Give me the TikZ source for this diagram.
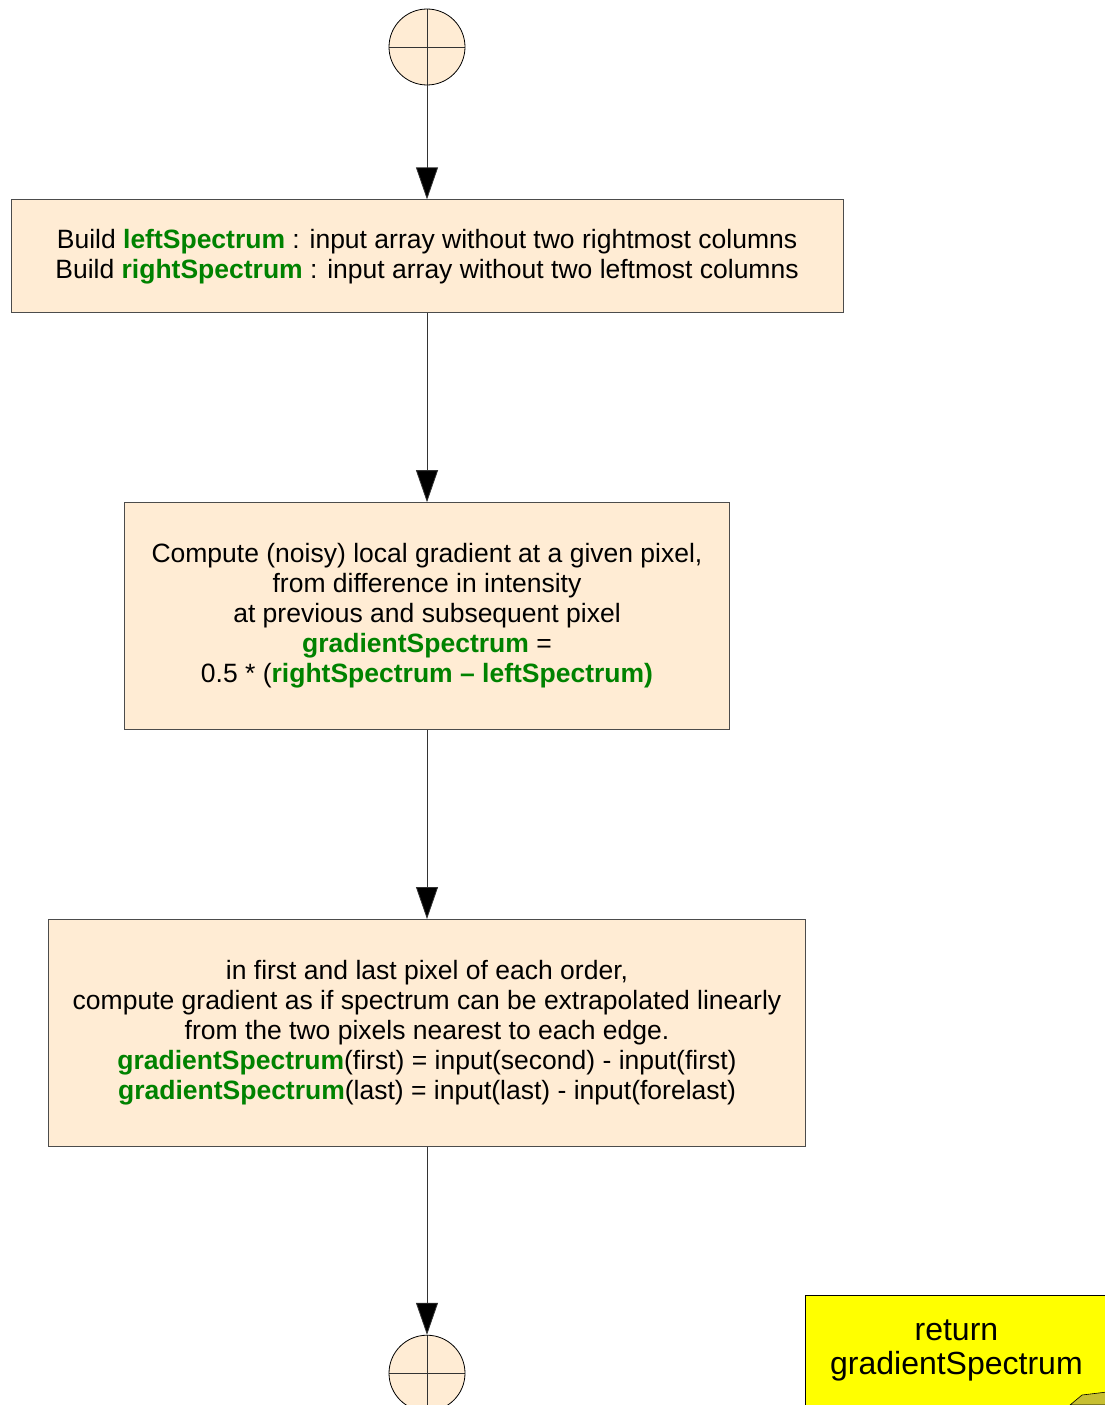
\documentclass[tikz,border=0pt]{standalone}
\usepackage{fontspec}
\setmainfont{Liberation Sans}
\usetikzlibrary{arrows.meta,positioning}

\definecolor{peach}{RGB}{255,236,212}
\definecolor{gvar}{RGB}{0,130,0}
\definecolor{notey}{RGB}{255,255,0}
\newcommand{\gname}[1]{\textcolor{gvar}{\textbf{#1}}}

\begin{document}
\begin{tikzpicture}
[x=1pt, y=-1pt, font=\fontsize{26.5}{30}\selectfont,
% STYLES
flow/.style={-{Triangle[length=32pt,width=22pt]}, draw=black!80, line width=0.8pt},
action/.style={rectangle, draw=black!70, fill=peach, line width=0.8pt, align=center, inner sep=0pt},
terminal/.style={circle, draw=black, fill=peach, line width=0.8pt, minimum size=76pt, inner sep=0pt,
  path picture={\draw[line width=0.8pt, black!80] (path picture bounding box.north) -- (path picture bounding box.south)
  (path picture bounding box.west) -- (path picture bounding box.east);}},
note/.style={rectangle, draw=black, fill=notey, line width=0.8pt, inner sep=0pt,
  minimum width=302pt, minimum height=130pt},
notetext/.style={align=center, inner sep=0pt, font=\fontsize{32}{34}\selectfont}]

\useasboundingbox (0,0) rectangle (1105,1405);

% activity
\node [terminal] (start) at (427,47) {};
\node [action, below=114pt of start, minimum width=832pt, minimum height=113pt] (build)
  {Build \gname{leftSpectrum} : input array without two rightmost columns\\
   Build \gname{rightSpectrum} : input array without two leftmost columns};
\node [action, below=189pt of build, minimum width=605pt, minimum height=227pt] (inner)
  {Compute (noisy) local gradient at a given pixel,\\
   from difference in intensity\\
   at previous and subsequent pixel\\
   \gname{gradientSpectrum} =\\
   0.5 * (\gname{rightSpectrum -- leftSpectrum)}};
\node [action, below=189pt of inner, minimum width=757pt, minimum height=227pt] (edges)
  {in first and last pixel of each order,\\
   compute gradient as if spectrum can be extrapolated linearly\\
   from the two pixels nearest to each edge.\\
   \gname{gradientSpectrum}(first) = input(second) - input(first)\\
   \gname{gradientSpectrum}(last) = input(last) - input(forelast)};
\node [terminal, below=188pt of edges] (stop) {};

% note
\node [note, anchor=north west] (ret) at (805,1295) {};
\node [notetext, below=25pt of ret.north] (rettext) {return\\gradientSpectrum};
\fill[yellow!75!black, draw=black, line width=0.6pt] (1070,1405) -- (1082,1395) -- (1107,1392) -- (1107,1405) -- cycle;

%%%%%%%%%%%%%%%%

\path[flow]
(start) edge (build)
(build) edge (inner)
(inner) edge (edges)
(edges) edge (stop);

\end{tikzpicture}
\end{document}
